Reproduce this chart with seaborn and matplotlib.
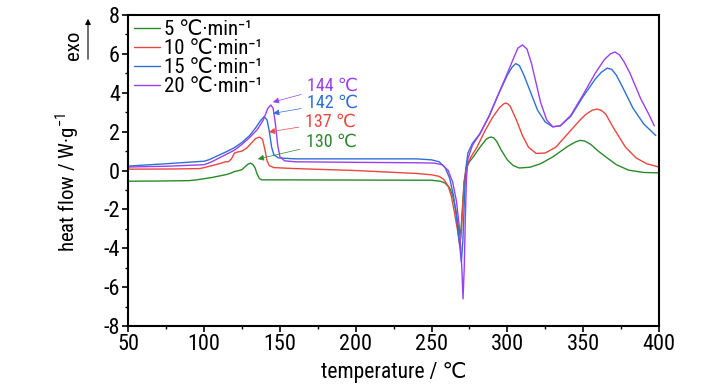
import seaborn as sns
import matplotlib.pyplot as plt
import pandas as pd
from matplotlib.patches import FancyArrowPatch

# DSC curves (temperature in C, heat flow in W/g)
t5 = [50, 70, 90, 95, 100, 105, 110, 115, 118, 120, 123, 125, 127, 129, 130.5, 132, 133.5, 135, 136.5, 138,
      150, 200, 250, 256, 259, 262, 264, 266, 267.5, 268.5, 269.5, 270.5, 271.5, 273, 275, 278, 282, 286, 288, 289.5,
      291, 293, 296, 300, 304, 308, 315, 322, 330, 340, 345, 348, 351, 355, 360, 365, 372, 380, 390, 400]
h5 = [-0.55, -0.54, -0.52, -0.48, -0.42, -0.36, -0.28, -0.2, -0.12, -0.05, 0.0, 0.05, 0.2, 0.33, 0.38, 0.32, 0.15, -0.2, -0.42, -0.48,
      -0.48, -0.49, -0.5, -0.55, -0.65, -0.9, -1.3, -2.0, -2.8, -3.3, -3.0, -1.8, -0.6, 0.1, 0.45, 0.75, 1.2, 1.6, 1.7, 1.72,
      1.68, 1.5, 1.05, 0.55, 0.25, 0.13, 0.17, 0.35, 0.7, 1.25, 1.47, 1.55, 1.52, 1.35, 1.0, 0.7, 0.3, 0.02, -0.1, -0.12]

t10 = [50, 80, 97, 100, 105, 110, 114, 116, 118, 120, 122, 125, 128, 131, 134, 136.5, 138.5, 140, 141.5, 143, 146,
       160, 200, 240, 250, 255, 258, 261, 263, 265, 267, 268.5, 269.5, 270.5, 271.5, 273, 276, 280, 285, 290, 295,
       297.5, 299, 300.5, 302, 306, 310, 314, 319, 325, 332, 340, 348, 352, 356, 359, 362, 365, 370, 378, 385, 392, 400]
h10 = [0.07, 0.08, 0.1, 0.15, 0.25, 0.35, 0.45, 0.45, 0.6, 0.9, 0.95, 1.0, 1.15, 1.4, 1.65, 1.72, 1.6, 1.1, 0.5, 0.25, 0.15,
       0.1, 0.0, -0.15, -0.22, -0.3, -0.45, -0.8, -1.3, -2.1, -3.0, -3.8, -3.4, -2.0, -0.6, 0.2, 0.7, 1.2, 2.0, 2.7, 3.25,
       3.42, 3.47, 3.42, 3.3, 2.6, 1.8, 1.2, 0.88, 0.9, 1.2, 1.9, 2.6, 2.9, 3.1, 3.16, 3.1, 2.9, 2.2, 1.2, 0.65, 0.35, 0.18]

t15 = [50, 75, 100, 103, 110, 115, 120, 125, 130, 134, 137, 139.5, 141.5, 143, 144.5, 146, 149, 160, 200, 240, 250,
       255, 259, 262, 264.5, 266.5, 268.5, 269.7, 270.7, 271.7, 272.5, 274, 277, 282, 288, 294, 300, 303, 305.5, 308,
       311, 315, 320, 325, 330, 335, 342, 350, 358, 362, 366, 369, 372, 376, 383, 390, 396, 398]
h15 = [0.23, 0.35, 0.48, 0.55, 0.8, 0.98, 1.18, 1.45, 1.8, 2.2, 2.55, 2.77, 2.6, 2.0, 1.2, 0.8, 0.65, 0.6, 0.6, 0.6, 0.55,
       0.45, 0.15, -0.4, -1.3, -2.4, -3.8, -4.7, -3.6, -1.5, 0.0, 0.9, 1.4, 1.9, 2.8, 3.9, 4.9, 5.3, 5.5, 5.4,
       4.9, 4.1, 3.1, 2.5, 2.25, 2.3, 2.8, 3.8, 4.7, 5.05, 5.27, 5.2, 4.9, 4.3, 3.2, 2.4, 1.95, 1.8]

t20 = [50, 75, 100, 105, 110, 115, 120, 125, 130, 135, 139, 142, 144, 145.5, 147, 148.5, 150, 153, 160, 200, 240,
       252, 257, 261, 264, 266.5, 268.5, 270, 270.8, 271.6, 272.3, 273, 274, 277, 282, 288, 294, 300, 304, 307,
       310, 313, 316, 319, 322, 326, 330, 335, 342, 350, 358, 364, 368, 371, 374, 377, 381, 388, 394, 397]
h20 = [0.18, 0.22, 0.3, 0.45, 0.65, 0.85, 1.05, 1.35, 1.7, 2.1, 2.6, 3.2, 3.37, 3.2, 2.4, 1.3, 0.7, 0.5, 0.45, 0.42, 0.4,
       0.38, 0.3, 0.0, -0.6, -1.6, -3.0, -5.0, -6.6, -5.0, -2.5, -0.5, 0.6, 1.3, 1.9, 2.8, 3.9, 5.0, 5.75, 6.3,
       6.46, 6.25, 5.5, 4.5, 3.5, 2.6, 2.25, 2.3, 2.85, 3.9, 5.0, 5.7, 6.0, 6.1, 5.95, 5.6, 5.0, 3.7, 2.8, 2.3]

rates = ['5 ℃·min⁻¹', '10 ℃·min⁻¹', '15 ℃·min⁻¹', '20 ℃·min⁻¹']
colors = ['#2a8a2a', '#e8473f', '#2f6fd6', '#9b3ff0']
peak_labels = ['130 ℃', '137 ℃', '142 ℃', '144 ℃']
peak_tips = [(135.4, 0.59), (142.7, 1.98), (145.5, 2.94), (145.3, 3.52)]
label_pos = [(167.0, 1.47), (166.5, 2.5), (168.0, 3.47), (168.0, 4.35)]

frames = []
for name, t, h in zip(rates, [t5, t10, t15, t20], [h5, h10, h15, h20]):
    frames.append(pd.DataFrame({'temperature': t, 'heat flow': h, 'rate': name}))
df = pd.concat(frames, ignore_index=True)

sns.set_style('ticks')
plt.rcParams['font.family'] = ['Roboto Condensed', 'DejaVu Sans']
plt.rcParams['mathtext.fontset'] = 'custom'
plt.rcParams['mathtext.rm'] = 'Roboto Condensed'
plt.rcParams['axes.unicode_minus'] = False
for k in ['text.color', 'axes.labelcolor', 'xtick.color', 'ytick.color', 'axes.edgecolor']:
    plt.rcParams[k] = 'black'

fig = plt.figure(figsize=(7.28, 3.9), dpi=100)
ax = fig.add_axes([0.1764, 0.164, 0.7286, 0.7975])

sns.lineplot(data=df, x='temperature', y='heat flow', hue='rate', palette=colors,
             estimator=None, sort=False, lw=1.0, ax=ax)

for lab, tip, pos, c in zip(peak_labels, peak_tips, label_pos, colors):
    ax.annotate(lab, xy=tip, xytext=pos, color=c, fontsize=13, ha='left', va='center',
                arrowprops=dict(arrowstyle='-|>', color=c, lw=0.5, mutation_scale=9, shrinkA=2, shrinkB=0))

ax.set_xlim(50, 400)
ax.set_ylim(-8, 8)
ax.set_xticks(range(50, 401, 50))
ax.set_xticks(range(75, 400, 50), minor=True)
ax.set_yticks(range(-8, 9, 2))
ax.set_yticks(range(-7, 8, 2), minor=True)
ax.tick_params(which='major', direction='out', length=4, width=1.2, labelsize=16, pad=2)
ax.tick_params(which='minor', direction='out', length=2.5, width=1.0)
for s in ax.spines.values():
    s.set_linewidth(1.5)

ax.set_xlabel('temperature / ℃', fontsize=15.5, labelpad=5)
ax.set_ylabel('heat flow / W·g$^{-1}$', fontsize=15)
ax.yaxis.set_label_coords(-0.09, 0.463)

ax.legend(loc='upper left', frameon=False, fontsize=15, handlelength=1.25,
          handletextpad=0.2, labelspacing=0.0, borderaxespad=0.15, borderpad=0.1)

fig.text(74, 345, 'exo', transform=None, rotation=90, fontsize=15, ha='center', va='center')
fig.add_artist(FancyArrowPatch((88, 328), (88, 374), transform=None,
                               arrowstyle='-|>', mutation_scale=8, lw=0.8, color='black'))

fig.savefig('out.png', dpi=100)
